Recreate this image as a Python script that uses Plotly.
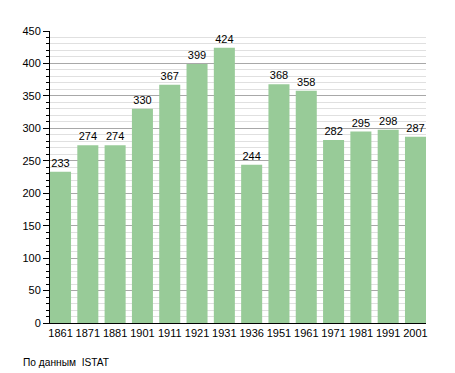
import plotly.graph_objects as go

years = ["1861", "1871", "1881", "1901", "1911", "1921", "1931", "1936",
         "1951", "1961", "1971", "1981", "1991", "2001"]
population = [233, 274, 274, 330, 367, 399, 424, 244, 368, 358, 282, 295, 298, 287]
source_note = "По данным  ISTAT"

FONT = "Liberation Sans, Arial, sans-serif"

fig = go.Figure()
fig.add_trace(go.Bar(
    x=list(range(len(years))),
    y=population,
    marker=dict(color="#98CB98", line=dict(width=0)),
    text=[str(v) for v in population],
    textposition="outside",
    cliponaxis=False,
    textfont=dict(family=FONT, size=11, color="#000000"),
    width=0.77,
    hoverinfo="skip",
))

fig.update_layout(
    width=455, height=373,
    margin=dict(l=50, r=29, t=31, b=50),
    paper_bgcolor="white", plot_bgcolor="white",
    showlegend=False,
    font=dict(family=FONT, size=11, color="#000000"),
    xaxis=dict(
        tickmode="array",
        tickvals=list(range(len(years))),
        ticktext=years,
        range=[-0.385, len(years) - 1 + 0.385],
        showgrid=False, zeroline=False,
        showline=True, linecolor="#000000", linewidth=1,
        ticks="", tickfont=dict(family=FONT, size=11, color="#000000"),
    ),
    yaxis=dict(
        range=[0, 450],
        tickmode="linear", tick0=0, dtick=50,
        showgrid=True, gridcolor="#a8a8a8", gridwidth=1,
        zeroline=False,
        showline=True, linecolor="#000000", linewidth=1,
        ticks="outside", ticklen=6, tickcolor="#000000",
        tickfont=dict(family=FONT, size=11, color="#000000"),
        minor=dict(dtick=10, showgrid=True, gridcolor="#e0e0e0", gridwidth=1,
                   ticks="outside", ticklen=3, tickcolor="#000000"),
    ),
    bargap=0.23,
)

fig.add_annotation(
    text=source_note, xref="paper", yref="paper",
    x=-29/376, y=-0.134, xanchor="left", yanchor="middle",
    showarrow=False, font=dict(family=FONT, size=10.2, color="#000000"),
)

fig.write_html(
    "out.html",
    config={"displayModeBar": False},
    post_script="document.body.style.margin='0';document.body.style.overflow='hidden';",
)
